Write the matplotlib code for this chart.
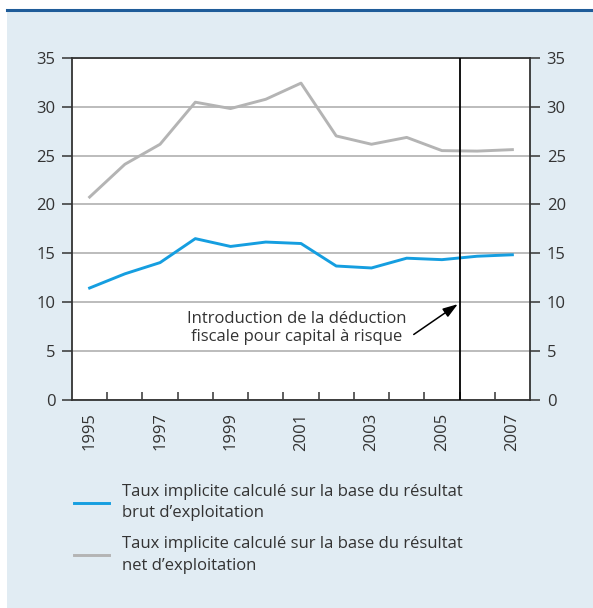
import numpy as np
import matplotlib
matplotlib.use('Agg')
import matplotlib.pyplot as plt
from matplotlib.patches import Rectangle
from matplotlib.lines import Line2D

plt.rcParams['font.family'] = ['Open Sans', 'DejaVu Sans']

years = [1995, 1996, 1997, 1998, 1999, 2000, 2001, 2002, 2003, 2004, 2005, 2006, 2007]
brut = [11.45, 12.9, 14.05, 16.5, 15.7, 16.15, 16.0, 13.7, 13.5, 14.5, 14.35, 14.7, 14.85]
net = [20.75, 24.1, 26.15, 30.45, 29.8, 30.75, 32.4, 27.0, 26.15, 26.85, 25.5, 25.45, 25.6]
label_brut = "Taux implicite calculé sur la base du résultat\nbrut d\u2019exploitation"
label_net = "Taux implicite calculé sur la base du résultat\nnet d\u2019exploitation"
note = "Introduction de la déduction\nfiscale pour capital à risque"
intro_year = 2006  # line drawn between 2005 and 2006

txt = '#333333'
bg = '#e1ecf3'
c_brut = '#159ee0'
c_net = '#b4b4b4'
fs = 12

fig = plt.figure(figsize=(5.93, 6.08), dpi=100)
fig.patch.set_facecolor('white')
fig.add_artist(Rectangle((7/593, 0), 1 - 7/593, 1 - 10/608, transform=fig.transFigure,
                         facecolor=bg, edgecolor='none', zorder=-2))
fig.add_artist(Line2D([7/593, 1], [1 - 10/608, 1 - 10/608], transform=fig.transFigure,
                      color='#1f5c99', lw=2.2, zorder=-1))

ax = fig.add_axes([72/593, 1 - 400/608, 458/593, (400 - 57.7)/608])
ax.set_facecolor('white')

x = np.arange(len(years))
ax.plot(x, net, color=c_net, lw=2.1, label=label_net, zorder=3)
ax.plot(x, brut, color=c_brut, lw=2.1, label=label_brut, zorder=3)

ax.set_xlim(-0.5, len(years) - 0.5)
ax.set_ylim(0, 35)
ax.set_yticks(np.arange(0, 36, 5))
ax.grid(axis='y', color='#aaaaaa', lw=1.1, zorder=1)
ax.set_axisbelow(True)

xi = years.index(intro_year) - 0.5
ax.axvline(xi, color='black', lw=1.3, zorder=4)

for s in ax.spines.values():
    s.set_color('#333333')
    s.set_linewidth(1.3)

ax.tick_params(axis='y', which='both', direction='out', length=7, width=1.1,
               color='#333333', labelsize=fs, labelcolor=txt, pad=5,
               left=True, right=True, labelleft=True, labelright=True)

# category labels at odd years, boundary ticks pointing inward
ax.set_xticks(x[::2])
ax.set_xticklabels([str(y) for y in years[::2]], rotation=90)
ax.set_xticks(np.arange(0.5, len(years) - 1, 1), minor=True)
ax.tick_params(axis='x', which='major', length=0, labelsize=fs, labelcolor=txt, pad=9)
ax.tick_params(axis='x', which='minor', direction='in', length=6, width=1.1, color='#333333')

ax.annotate('', xy=(xi - 0.05, 9.8), xytext=(9.2, 6.7),
            arrowprops=dict(arrowstyle='-|>,head_length=0.9,head_width=0.3',
                            color='black', lw=1.1, shrinkA=0, shrinkB=0), zorder=5)
ax.text(5.88, 7.35, note, ha='center', va='center', fontsize=fs, color=txt,
        linespacing=1.2, zorder=5)

h_net, h_brut = ax.get_lines()[0], ax.get_lines()[1]
leg = fig.legend([h_brut, h_net], [label_brut, label_net], loc='upper left',
                 bbox_to_anchor=(74/593, 1 - 484/608), frameon=False, fontsize=fs,
                 labelcolor=txt, handlelength=2.1, handletextpad=0.8, labelspacing=0.9,
                 borderpad=0, borderaxespad=0)
for t in leg.get_texts():
    t.set_linespacing(1.45)

fig.savefig('out.png', dpi=100)
